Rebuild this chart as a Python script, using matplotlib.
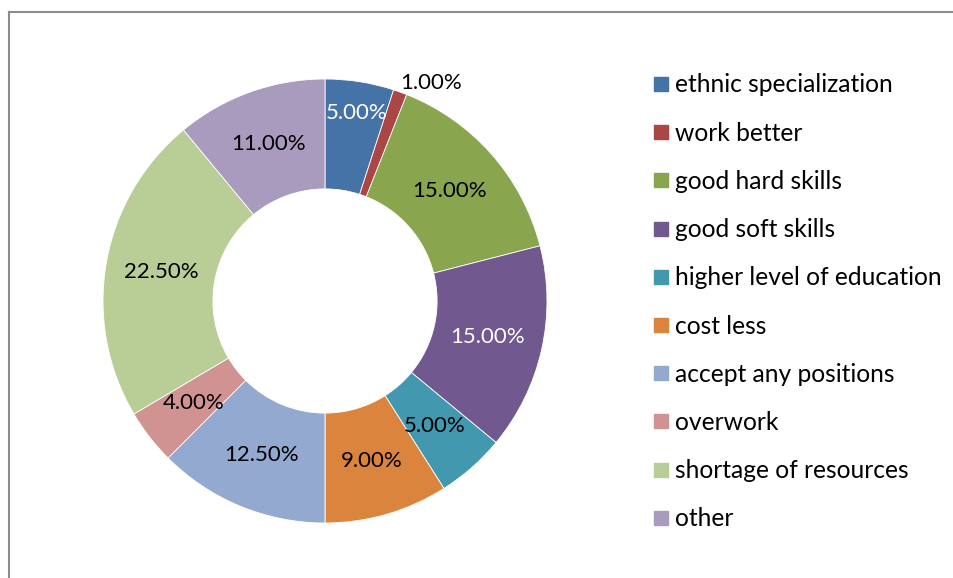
import numpy as np
import matplotlib.pyplot as plt
from matplotlib.patches import Rectangle
from matplotlib.lines import Line2D

plt.rcParams['font.family'] = ['Lato', 'DejaVu Sans']

# Survey shares (percent)
categories = ["ethnic specialization", "work better", "good hard skills",
              "good soft skills", "higher level of education", "cost less",
              "accept any positions", "overwork", "shortage of resources", "other"]
shares = [5.0, 1.0, 15.0, 15.0, 5.0, 9.0, 12.5, 4.0, 22.5, 11.0]
colors = ["#4572A7", "#AA4643", "#89A54E", "#71588F", "#4198AF",
          "#DB843D", "#93A9CF", "#D19392", "#B9CD96", "#A99BBD"]
white_text = {0, 3}

W, H = 954, 578
fig = plt.figure(figsize=(W / 100, H / 100), dpi=100)

# donut centred at (325, 301) px, outer radius 222 px
R = 222
ax = fig.add_axes([(325 - R) / W, 1 - (301 + R) / H, 2 * R / W, 2 * R / H])
wedges, _, autotexts = ax.pie(
    shares, colors=colors, startangle=90, counterclock=False, radius=1.0,
    wedgeprops=dict(width=0.495, edgecolor="white", linewidth=0.6),
    autopct=lambda p: f"{p:.2f}%", pctdistance=0.75,
    textprops=dict(fontsize=16))
ax.set_xlim(-1, 1)
ax.set_ylim(-1, 1)
ax.set_aspect("equal")
ax.axis("off")

for i, t in enumerate(autotexts):
    t.set_color("white" if i in white_text else "black")

# labels nudged off the ring for the two thin slices
moved = {0: (0.86, 80.3), 1: (1.095, 64.0)}
for i, (r, ang) in moved.items():
    a = np.radians(ang)
    autotexts[i].set_position((r * np.cos(a), r * np.sin(a)))

# legend
y0, dy = 84, 48.2
for i, (name, c) in enumerate(zip(categories, colors)):
    y = y0 + i * dy
    fig.patches.append(Rectangle((654 / W, 1 - (y + 7) / H), 14 / W, 14 / H,
                                 transform=fig.transFigure, color=c))
    fig.text(675 / W, 1 - (y + 1) / H, name, fontsize=17.7, va="center", ha="left")

# chart frame
fig.add_artist(Line2D([9.5 / W, 9.5 / W], [0, 1 - 12 / H], color="#8c8c8c", lw=1.5))
fig.add_artist(Line2D([9.5 / W, 1], [1 - 12 / H, 1 - 12 / H], color="#8c8c8c", lw=1.5))

fig.savefig("out.png", dpi=100, facecolor="white")
